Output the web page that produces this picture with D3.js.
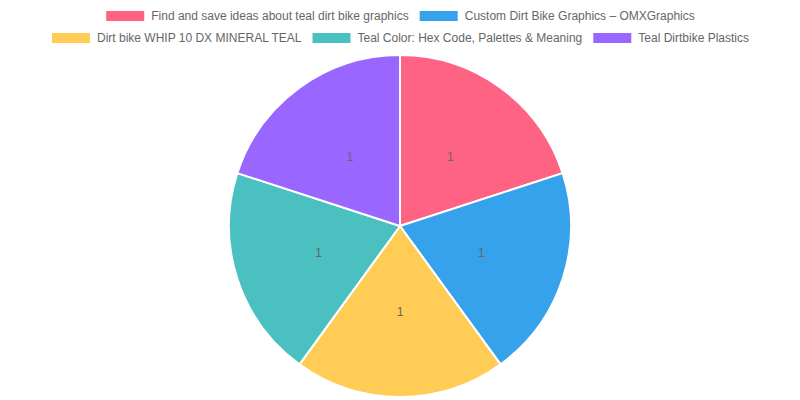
<!DOCTYPE html>
<html><head><meta charset="utf-8">
<script src="https://cdn.jsdelivr.net/npm/d3@7"></script>
<style>html,body{margin:0;padding:0;background:#fff;}svg{display:block;}</style>
</head><body>
<svg id="chart" width="800" height="400"></svg>
<script>
const labels = [
  "Find and save ideas about teal dirt bike graphics",
  "Custom Dirt Bike Graphics – OMXGraphics",
  "Dirt bike WHIP 10 DX MINERAL TEAL",
  "Teal Color: Hex Code, Palettes & Meaning",
  "Teal Dirtbike Plastics"
];
const values = [1, 1, 1, 1, 1];
const colors = ["#ff6384", "#36a2eb", "#ffcd56", "#4bc0c0", "#9966ff"];

const W = 800, H = 400;
const svg = d3.select("#chart");
const font = "12px 'Liberation Sans', Arial, Helvetica, sans-serif";

// Legend (Chart.js-like layout)
const rows = [[0, 1], [2, 3, 4]];
const rowY = [16, 38];
const boxW = 40, boxH = 12, fs = 12, pad = 10;
const measure = svg.append("text").style("font", font).attr("opacity", 0);
function tw(s) { measure.text(s); return measure.node().getComputedTextLength(); }
const legend = svg.append("g");
rows.forEach((row, ri) => {
  const widths = row.map(i => boxW + fs / 2 + tw(labels[i]));
  const total = d3.sum(widths) + pad * (row.length - 1);
  let x = (W - total) / 2;
  row.forEach((i, k) => {
    const g = legend.append("g");
    g.append("rect").attr("x", x).attr("y", rowY[ri] - boxH / 2)
      .attr("width", boxW).attr("height", boxH)
      .attr("fill", colors[i]).attr("stroke", "#fff").attr("stroke-width", 2);
    g.append("text").attr("x", x + boxW + fs / 2).attr("y", rowY[ri])
      .attr("dy", "0.35em").style("font", font).attr("fill", "#666").text(labels[i]);
    x += widths[k] + pad;
  });
});
measure.remove();

// Pie
const cx = 400, cy = 226, r = 171;
const pie = d3.pie().sort(null).value(d => d)(values);
const arc = d3.arc().innerRadius(0).outerRadius(r);
const g = svg.append("g").attr("transform", `translate(${cx},${cy})`);
g.selectAll("path").data(pie).join("path")
  .attr("d", arc).attr("fill", (d, i) => colors[i])
  .attr("stroke", "#fff").attr("stroke-width", 2).attr("stroke-linejoin", "round");
g.selectAll("text").data(pie).join("text")
  .attr("transform", d => `translate(${arc.centroid(d)})`)
  .attr("text-anchor", "middle").attr("dy", "0.35em")
  .style("font", font).attr("fill", "#666").text(d => d.data);
</script>
</body></html>
